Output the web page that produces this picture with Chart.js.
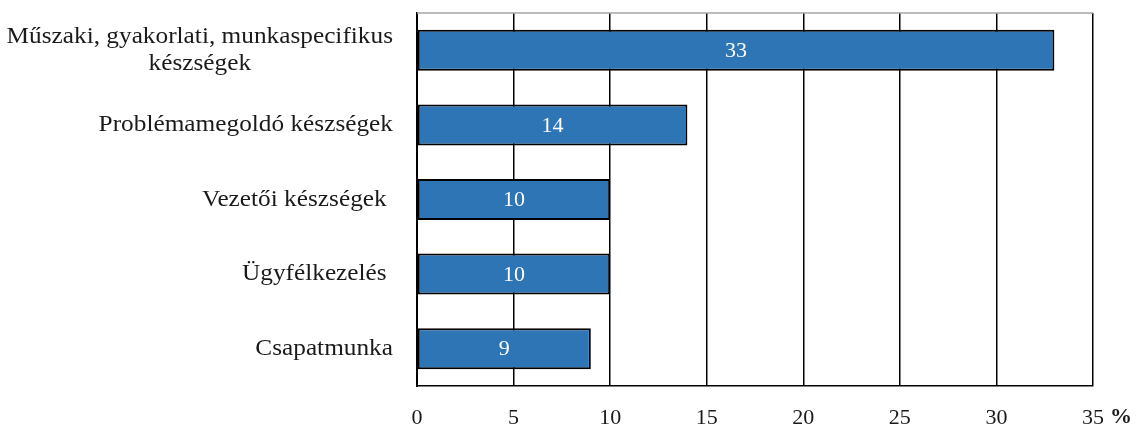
<!DOCTYPE html>
<html>
<head>
<meta charset="utf-8">
<script src="https://cdn.jsdelivr.net/npm/chart.js@4.4.1/dist/chart.umd.min.js"></script>
<style>
html,body{margin:0;padding:0;background:#fff;}
#wrap{width:1137px;height:426px;position:relative;}
</style>
</head>
<body>
<div id="wrap"><canvas id="c"></canvas></div>
<script>
const categories = [
  ["Műszaki, gyakorlati, munkaspecifikus", "készségek"],
  "Problémamegoldó készségek",
  "Vezetői készségek ",
  "Ügyfélkezelés ",
  "Csapatmunka"
];
const values = [33, 14, 10, 10, 9];
const xTicks = [0, 5, 10, 15, 20, 25, 30, 35];
const unitLabel = "%";

const FONT = "'Liberation Serif', 'DejaVu Serif', serif";
const STRETCH = 1.1;

const customDraw = {
  id: 'customDraw',
  afterDatasetsDraw(chart) {
    const ctx = chart.ctx;
    const ca = chart.chartArea;
    const ys = chart.scales.y;
    const xs = chart.scales.x;
    // top border (gray)
    ctx.save();
    ctx.strokeStyle = '#a6a6a6';
    ctx.lineWidth = 1.5;
    ctx.beginPath();
    ctx.moveTo(ca.left, ca.top);
    ctx.lineTo(ca.right, ca.top);
    ctx.stroke();
    ctx.restore();
    // data labels
    const meta = chart.getDatasetMeta(0);
    ctx.save();
    ctx.fillStyle = '#ffffff';
    ctx.font = "22px " + FONT;
    ctx.textAlign = 'center';
    ctx.textBaseline = 'middle';
    meta.data.forEach((bar, i) => {
      const cx = (bar.x + bar.base) / 2;
      ctx.fillText(String(values[i]), cx, bar.y + 1);
    });
    ctx.restore();
    // category labels (stretched horizontally)
    ctx.save();
    ctx.fillStyle = '#1a1a1a';
    ctx.font = "23px " + FONT;
    ctx.textBaseline = 'middle';
    const right = ca.left - 24;
    const drawT = (txt, x, y, align) => {
      ctx.save();
      ctx.translate(x, y);
      ctx.scale(STRETCH, 1);
      ctx.textAlign = align;
      ctx.fillText(txt, 0, 0);
      ctx.restore();
    };
    categories.forEach((lab, i) => {
      const y = ys.getPixelForValue(i);
      if (Array.isArray(lab)) {
        const w = Math.max(...lab.map(l => ctx.measureText(l).width)) * STRETCH;
        const cx = right - w / 2;
        const lh = 27;
        const y0 = y - (lab.length - 1) * lh / 2;
        lab.forEach((l, k) => drawT(l, cx, y0 + k * lh, 'center'));
      } else {
        drawT(lab, right, y, 'right');
      }
    });
    // unit label
    ctx.font = "bold 22px " + FONT;
    ctx.textAlign = 'left';
    ctx.fillText(unitLabel, xs.getPixelForValue(xTicks[xTicks.length - 1]) + 17, ca.bottom + 31);
    ctx.restore();
  }
};

new Chart(document.getElementById('c'), {
  type: 'bar',
  data: {
    labels: categories.map(c => Array.isArray(c) ? c.join(' ') : c),
    datasets: [{
      data: values,
      backgroundColor: '#2e75b6',
      borderColor: '#000000',
      borderWidth: 2,
      borderSkipped: false,
      barPercentage: 0.55,
      categoryPercentage: 1.0
    }]
  },
  options: {
    indexAxis: 'y',
    responsive: true,
    maintainAspectRatio: false,
    animation: false,
    layout: { padding: { top: 13, right: 44, bottom: 0, left: 0 } },
    plugins: { legend: { display: false }, tooltip: { enabled: false } },
    scales: {
      x: {
        min: 0, max: 35,
        afterBuildTicks: (s) => { s.ticks = xTicks.map(v => ({ value: v })); },
        afterFit: (s) => { s.height = 40; },
        grid: { color: '#000000', lineWidth: 1.5, drawTicks: false },
        border: { display: true, color: '#000000', width: 1.5 },
        ticks: { color: '#1a1a1a', font: { family: FONT, size: 22 }, padding: 19, maxRotation: 0 }
      },
      y: {
        afterFit: (s) => { s.width = 417; },
        grid: { display: false, drawTicks: false },
        border: { display: true, color: '#000000', width: 2 },
        ticks: { display: false }
      }
    }
  },
  plugins: [customDraw]
});
</script>
</body>
</html>
